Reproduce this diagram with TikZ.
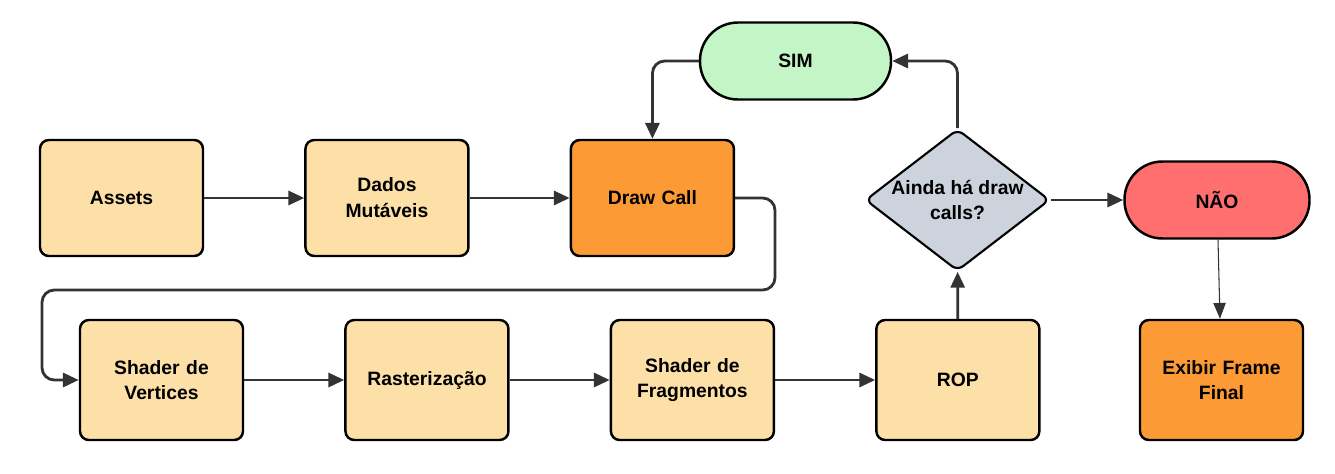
\documentclass[tikz,border=0pt]{standalone}
\usepackage{fontspec}
\setmainfont{Liberation Sans}
\usepackage{xcolor}
\usetikzlibrary{shapes.geometric,arrows.meta,positioning}

\definecolor{boxfill}{HTML}{FDDFA8}
\definecolor{callfill}{HTML}{FC9A35}
\definecolor{simfill}{HTML}{C3F5C6}
\definecolor{decfill}{HTML}{CCD3DC}
\definecolor{naofill}{HTML}{FF6F6F}
\definecolor{linegray}{HTML}{333333}

\begin{document}
\begin{tikzpicture}[node distance=2.0cm,
    font=\fontsize{11}{14.7}\selectfont\bfseries,
    block/.style={rectangle,draw=black,line width=1.4pt,fill=boxfill,rounded corners=5pt,
                  text width=3cm,align=center,minimum width=3.26cm,minimum height=2.32cm},
    lowblock/.style={block,minimum height=2.4cm},
    callbox/.style={fill=callfill},
    pill/.style={rectangle,draw=black,line width=1.4pt,align=center,rounded corners=0.76cm,
                 minimum height=1.54cm},
    decision/.style={diamond,draw=black,line width=1.2pt,fill=decfill,aspect=1.3,inner sep=0pt,
                     rounded corners=4pt,minimum width=3.5cm,minimum height=2.7cm,align=center},
    arrow/.style={-{Triangle[length=9pt,width=8pt]},line width=1.6pt,linegray,rounded corners=7pt},
    thinarrow/.style={-{Triangle[length=9pt,width=7pt]},line width=0.6pt,linegray}]
\useasboundingbox (0,0) rectangle (26.7,-9.46);

% first row
\node[block] (assets) at (2.43,-3.96) {Assets};
\node[block,right=of assets] (dados) {Dados\\Mutáveis};
\node[block,callbox,right=of dados] (draw) {Draw Call};

% decision and results
\node[pill,fill=simfill,minimum width=3.82cm] (sim) at (15.91,-1.22) {SIM};
\node[decision] (dec) at (19.15,-4.0) {Ainda há draw\\calls?};
\node[pill,fill=naofill,minimum width=3.7cm] (nao) at (24.34,-4.0) {NÃO};

% second row
\node[lowblock] (vert) at (3.23,-7.6) {Shader de\\Vertices};
\node[lowblock,right=of vert] (rast) {Rasterização};
\node[lowblock,right=of rast] (frag) {Shader de\\Fragmentos};
\node[lowblock,right=of frag] (rop) {ROP};
\node[lowblock,callbox] (exibir) at (24.43,-7.6) {Exibir Frame\\Final};

\coordinate (loopR) at (15.5,-5.8);
\coordinate (loopL) at (0.84,-5.8);

\draw[arrow] (assets) -- (dados);
\draw[arrow] (dados) -- (draw);
\draw[arrow] (draw.east) -| (loopR) -- (loopL) |- (vert.west);
\draw[arrow] (vert) -- (rast);
\draw[arrow] (rast) -- (frag);
\draw[arrow] (frag) -- (rop);
\draw[arrow] (rop) -- (dec);
\draw[arrow] (dec.north) |- (sim.east);
\draw[arrow] (sim.west) -| (draw.north);
\draw[arrow] (dec.east) -- (nao.west);
\draw[thinarrow] (nao) -- (exibir);
\end{tikzpicture}
\end{document}
